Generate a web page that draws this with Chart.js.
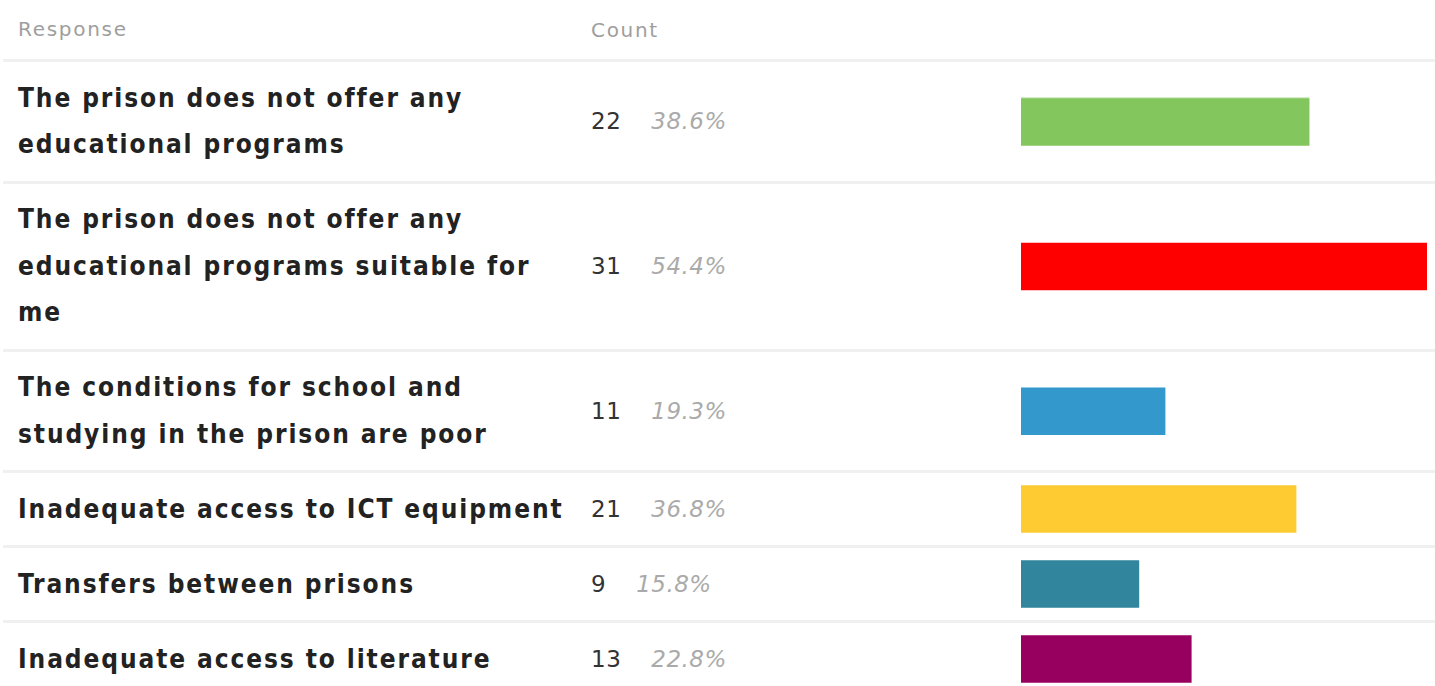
<!DOCTYPE html>
<html>
<head>
<meta charset="utf-8">
<title>Response counts</title>
<script src="https://cdn.jsdelivr.net/npm/chart.js@4"></script>
<style>
    html, body {
        margin: 0;
        padding: 0;
        background: #ffffff;
        font-family: "DejaVu Sans", sans-serif;
    }

    .results {
        margin-left: 3px;
        width: 1432px;
    }

    .row {
        display: flex;
        align-items: stretch;
        border-top: 3px solid #f0f0f0;
    }

    .row.header {
        border-top: none;
        height: 59px;
        align-items: center;
    }

    .cell-response {
        width: 550px;
        padding: 12.75px 23px 12.75px 15px;
        font-family: "DejaVu Sans Condensed", "DejaVu Sans", sans-serif;
        font-stretch: condensed;
        font-size: 26px;
        font-weight: bold;
        line-height: 46.5px;
        letter-spacing: 1.9px;
        color: #222222;
    }

    .header .cell-response,
    .header .cell-count {
        padding-top: 0;
        padding-bottom: 0;
        font-family: "DejaVu Sans", sans-serif;
        font-stretch: normal;
        font-size: 20px;
        font-weight: normal;
        letter-spacing: 1.7px;
        color: #9e9e9e;
    }

    .cell-count {
        width: 430px;
        display: flex;
        align-items: center;
        font-size: 23px;
        letter-spacing: 0.5px;
        color: #333333;
    }

    .cell-count .pct {
        margin-left: 30px;
        font-style: italic;
        color: #aaaaaa;
    }

    .cell-bar {
        position: relative;
        width: 406px;
        margin-right: 8px;
    }

    .cell-bar canvas {
        position: absolute;
        top: 0;
        left: 0;
    }
</style>
</head>
<body>
<div class="results" id="results">
    <div class="row header">
        <div class="cell-response">Response</div>
        <div class="cell-count">Count</div>
        <div class="cell-bar"></div>
    </div>
</div>

<script>
// answers and how many respondents picked each one
const responses = [
    'The prison does not offer any educational programs',
    'The prison does not offer any educational programs suitable for me',
    'The conditions for school and studying in the prison are poor',
    'Inadequate access to ICT equipment',
    'Transfers between prisons',
    'Inadequate access to literature'
];
const counts = [22, 31, 11, 21, 9, 13];
const percents = [38.6, 54.4, 19.3, 36.8, 15.8, 22.8];

const barColors = ['#82c65d', '#ff0000', '#3399cc', '#fecb33', '#31859c', '#97005f'];

const maxCount = Math.max(...counts);
const charts = [];

function createRow(i) {
    const row = document.createElement('div');
    row.className = 'row';

    const label = document.createElement('div');
    label.className = 'cell-response';
    label.textContent = responses[i];

    const count = document.createElement('div');
    count.className = 'cell-count';
    const num = document.createElement('span');
    num.textContent = counts[i];
    const pct = document.createElement('span');
    pct.className = 'pct';
    pct.textContent = percents[i].toFixed(1) + '%';
    count.appendChild(num);
    count.appendChild(pct);

    const barCell = document.createElement('div');
    barCell.className = 'cell-bar';
    const canvas = document.createElement('canvas');
    barCell.appendChild(canvas);

    row.appendChild(label);
    row.appendChild(count);
    row.appendChild(barCell);
    document.getElementById('results').appendChild(row);

    return canvas;
}

function createBarChart(canvas, i) {
    return new Chart(canvas.getContext('2d'), {
        type: 'bar',
        data: {
            labels: [responses[i]],
            datasets: [{
                data: [counts[i]],
                backgroundColor: barColors[i],
                borderWidth: 0,
                barThickness: 47
            }]
        },
        options: {
            indexAxis: 'y',
            responsive: true,
            maintainAspectRatio: false,
            animation: false,
            layout: { padding: 0 },
            plugins: {
                legend: { display: false },
                tooltip: { enabled: false }
            },
            scales: {
                x: {
                    display: false,
                    min: 0,
                    max: maxCount
                },
                y: {
                    display: false
                }
            }
        }
    });
}

responses.forEach((_, i) => {
    const canvas = createRow(i);
    charts.push(createBarChart(canvas, i));
});
</script>
</body>
</html>
